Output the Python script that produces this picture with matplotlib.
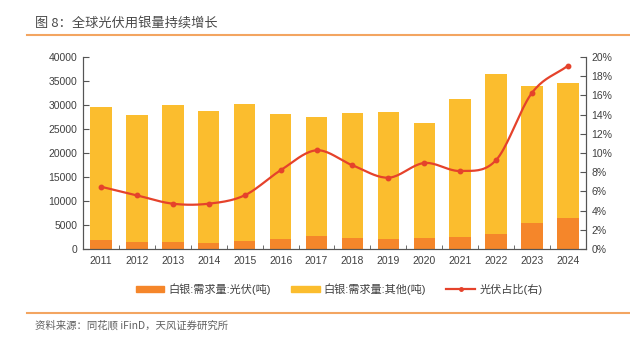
import numpy as np
import matplotlib
matplotlib.use("Agg")
import matplotlib.pyplot as plt
from matplotlib.lines import Line2D
from matplotlib.patches import Patch
from matplotlib.ticker import FuncFormatter, MultipleLocator, FixedLocator

plt.rcParams['font.family'] = ['Liberation Sans', 'Noto Sans CJK SC', 'DejaVu Sans']

years = ['2011', '2012', '2013', '2014', '2015', '2016', '2017',
         '2018', '2019', '2020', '2021', '2022', '2023', '2024']
# 白银需求量 合计 (吨), 光伏部分, 光伏占比(%)
total = [29580, 27900, 30070, 28680, 30280, 28130, 27500,
         28400, 28540, 26250, 31180, 36400, 33960, 34520]
pv = [1860, 1370, 1370, 1240, 1580, 2140, 2760,
      2340, 1990, 2340, 2490, 3230, 5450, 6490]
share = [6.49, 5.59, 4.72, 4.72, 5.59, 8.20, 10.28,
         8.72, 7.43, 8.96, 8.13, 9.27, 16.28, 19.10]
other = [t - p for t, p in zip(total, pv)]

c_pv = '#F5862A'
c_other = '#FBBD2E'
c_line = '#E5422B'
c_text = '#404040'
c_axis = '#555555'


def smooth(xs, ys, n=20):
    # catmull-rom, like excel smoothed line
    xs = np.asarray(xs, float)
    ys = np.asarray(ys, float)
    px = np.concatenate([[2 * xs[0] - xs[1]], xs, [2 * xs[-1] - xs[-2]]])
    py = np.concatenate([[2 * ys[0] - ys[1]], ys, [2 * ys[-1] - ys[-2]]])
    ox, oy = [], []
    t = np.linspace(0, 1, n, endpoint=False)
    for i in range(1, len(px) - 2):
        for P, out in ((px, ox), (py, oy)):
            p0, p1, p2, p3 = P[i - 1], P[i], P[i + 1], P[i + 2]
            out.extend(0.5 * (2 * p1 + (-p0 + p2) * t
                              + (2 * p0 - 5 * p1 + 4 * p2 - p3) * t ** 2
                              + (-p0 + 3 * p1 - 3 * p2 + p3) * t ** 3))
    ox.append(xs[-1])
    oy.append(ys[-1])
    return ox, oy


fig = plt.figure(figsize=(6.3, 3.42), dpi=100)
ax = fig.add_axes([0.1317, 0.2719, 0.7984, 0.5614])
x = np.arange(len(years))
ax.bar(x, pv, width=0.6, color=c_pv, zorder=2)
ax.bar(x, other, width=0.6, bottom=pv, color=c_other, zorder=2)
ax.set_xlim(-0.5, len(years) - 0.5)
ax.set_ylim(0, 40000)
ax.yaxis.set_major_locator(MultipleLocator(5000))
ax.set_xticks(x)
ax.set_xticklabels(years)
ax.xaxis.set_minor_locator(FixedLocator(np.arange(-0.5, len(years), 1)))
ax.tick_params(axis='x', which='major', length=0, labelsize=7.5,
               labelcolor=c_text, pad=5)
ax.tick_params(axis='x', which='minor', direction='in', length=3,
               color=c_axis)
ax.tick_params(axis='y', direction='in', length=4, color=c_axis,
               labelsize=7.5, labelcolor=c_text, pad=4)

ax2 = ax.twinx()
sx, sy = smooth(x, share)
ax2.plot(sx, sy, color=c_line, lw=1.6, zorder=3)
ax2.plot(x, share, 'o', color=c_line, ms=3.2, zorder=4)
ax2.set_ylim(0, 20)
ax2.yaxis.set_major_locator(MultipleLocator(2))
ax2.yaxis.set_major_formatter(FuncFormatter(lambda v, p: f'{v:.0f}%'))
ax2.tick_params(axis='y', direction='in', length=4, color=c_axis,
                labelsize=7.5, labelcolor=c_text, pad=4)

for a in (ax, ax2):
    a.spines['top'].set_visible(False)
    for s in ('left', 'right', 'bottom'):
        a.spines[s].set_color(c_axis)
        a.spines[s].set_linewidth(0.8)

handles = [Patch(color=c_pv, label='白银:需求量:光伏(吨)'),
           Patch(color=c_other, label='白银:需求量:其他(吨)'),
           Line2D([0], [0], color=c_line, lw=1.6, marker='o', ms=2.5,
                  label='光伏占比(右)')]
leg = fig.legend(handles=handles, loc='center', bbox_to_anchor=(0.538, 0.155),
                 ncol=3, frameon=False, fontsize=8, handlelength=2.6,
                 handleheight=0.45, columnspacing=1.8, handletextpad=0.36)
for t in leg.get_texts():
    t.set_color(c_text)

fig.text(0.056, 0.933, '图 8：全球光伏用银量持续增长', fontsize=9.5,
         fontweight='medium', color='#4a4a4a', va='center',
         family=['Noto Sans CJK SC', 'DejaVu Sans'])
fig.add_artist(Line2D([0.043, 1.0], [0.898, 0.898], color='#F3A561',
                      lw=1.5, transform=fig.transFigure))
fig.add_artist(Line2D([0.043, 1.0], [0.085, 0.085], color='#F3A561',
                      lw=1.5, transform=fig.transFigure))
fig.text(0.056, 0.047, '资料来源：同花顺 iFinD，天风证券研究所', fontsize=7.5,
         color='#606060', va='center',
         family=['Noto Sans CJK SC', 'DejaVu Sans'])

fig.savefig('out.png', dpi=100)
